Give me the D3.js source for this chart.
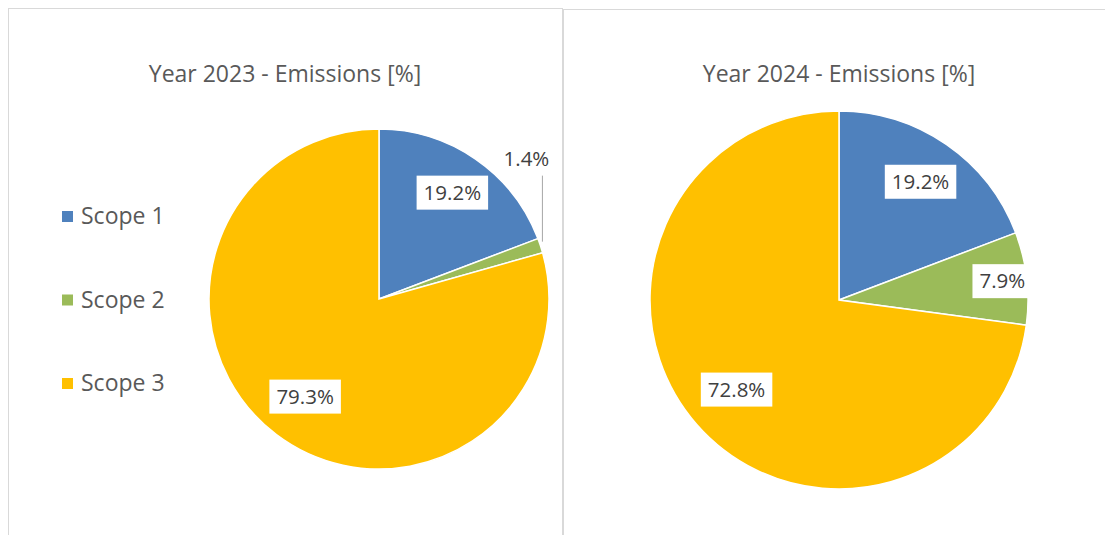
<!DOCTYPE html>
<html>
<head>
<meta charset="utf-8">
<script src="https://cdn.jsdelivr.net/npm/d3@7"></script>
<style>
  body { margin: 0; background: #fff; }
  svg { display: block; font-family: "Open Sans", sans-serif; }
</style>
</head>
<body>
<script>
// data
const categories = ["Scope 1", "Scope 2", "Scope 3"];
const values2023 = [19.2, 1.4, 79.3];
const values2024 = [19.2, 7.9, 72.8];
const titles = ["Year 2023 - Emissions [%]", "Year 2024 - Emissions [%]"];

const width = 1105, height = 535;

const color = d3.scaleOrdinal()
    .domain(categories)
    .range(["#4f81bd", "#9bbb59", "#ffc000"]);

const svg = d3.select("body").append("svg")
    .attr("width", width)
    .attr("height", height);

// panel frames
svg.append("rect")
    .attr("x", 8.5).attr("y", 8.5)
    .attr("width", 554).attr("height", 540)
    .attr("fill", "none").attr("stroke", "#d9d9d9");
svg.append("rect")
    .attr("x", 563.5).attr("y", 9.5)
    .attr("width", 560).attr("height", 540)
    .attr("fill", "none").attr("stroke", "#d9d9d9");

// chart layouts
const charts = [
  { values: values2023, title: titles[0], cx: 379, cy: 299, r: 170, titleX: 285 },
  { values: values2024, title: titles[1], cx: 839, cy: 300, r: 189, titleX: 839 }
];

const pie = d3.pie().sort(null).value(d => d.value);

charts.forEach(c => {
  const data = categories.map((k, i) => ({ key: k, value: c.values[i] }));
  const arcs = pie(data);

  svg.append("text")
      .attr("x", c.titleX)
      .attr("y", 74)
      .attr("dy", "0.35em")
      .attr("text-anchor", "middle")
      .attr("font-size", 23)
      .attr("fill", "#595959")
      .text(c.title);

  const g = svg.append("g").attr("transform", `translate(${c.cx},${c.cy})`);

  const arc = d3.arc().innerRadius(0).outerRadius(c.r);

  g.append("g")
      .attr("stroke", "white")
      .attr("stroke-width", 1.5)
      .selectAll("path")
      .data(arcs)
      .join("path")
      .attr("fill", d => color(d.data.key))
      .attr("d", arc);

  arcs.forEach(d => {
    const mid = (d.startAngle + d.endAngle) / 2;
    const label = d.data.value.toFixed(1) + "%";
    let x, y, boxed = true;
    if (d.data.value < 3) {
      // outside label with a leader line
      const ex = Math.sin(mid) * c.r, ey = -Math.cos(mid) * c.r;
      x = ex - 14; y = ey - 87;
      boxed = false;
      g.append("line")
          .attr("x1", ex + 2).attr("y1", y + 17)
          .attr("x2", ex + 2).attr("y2", ey - 4)
          .attr("stroke", "#a6a6a6").attr("stroke-width", 1);
    } else {
      const lr = c.r * (d.data.value < 10 ? 0.87 : d.data.value > 50 ? 0.72 : 0.76);
      x = Math.sin(mid) * lr; y = -Math.cos(mid) * lr;
    }
    const lg = g.append("g").attr("transform", `translate(${x},${y})`);
    const t = lg.append("text")
        .attr("text-anchor", "middle")
        .attr("dy", "0.35em")
        .attr("font-size", 20.5)
        .attr("fill", "#404040")
        .text(label);
    if (boxed) {
      const w = t.node().getComputedTextLength();
      lg.insert("rect", "text")
          .attr("x", -w / 2 - 7).attr("y", -17)
          .attr("width", w + 14).attr("height", 34)
          .attr("fill", "white");
    }
  });
});

// legend
const legend = svg.append("g")
    .selectAll("g")
    .data(categories)
    .join("g")
    .attr("transform", (d, i) => `translate(62,${216 + i * 83.5})`);

legend.append("rect")
    .attr("y", -5)
    .attr("width", 11).attr("height", 11)
    .attr("fill", d => color(d));

legend.append("text")
    .attr("x", 19)
    .attr("dy", "0.35em")
    .attr("font-size", 23)
    .attr("fill", "#595959")
    .text(d => d);
</script>
</body>
</html>
